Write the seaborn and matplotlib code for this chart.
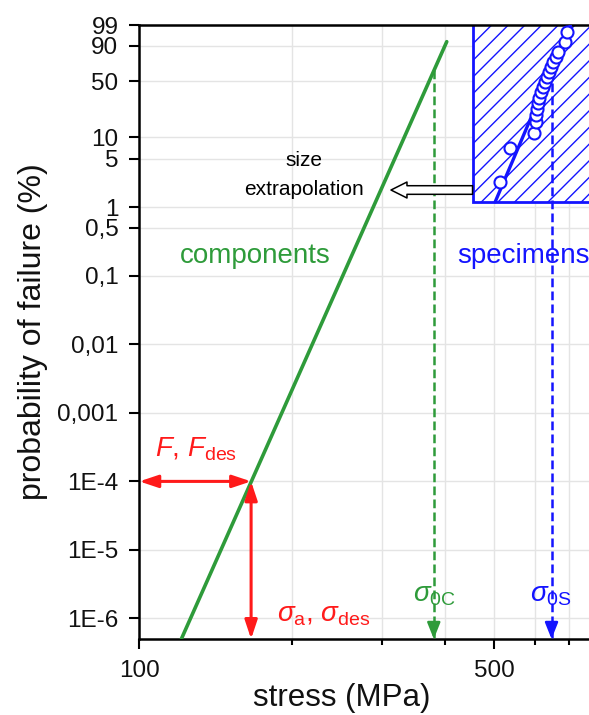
import numpy as np
import matplotlib
matplotlib.use("Agg")
import matplotlib.pyplot as plt
import matplotlib.ticker as mticker
from matplotlib.patches import Rectangle
import seaborn as sns

# ---------------- data ----------------
comp_stress = [121, 403]            # MPa, components Weibull line
comp_prob = [5e-7, 92.8]            # %
spec_stress = [513, 538, 599, 603, 605, 606, 609, 612, 618, 624,
               629, 634, 641, 646, 653, 661, 668, 689, 694]
spec_prob = [2.3, 7.2, 11.6, 16.3, 20.0, 23.7, 28.2, 32.9, 38.1, 43.9,
             49.5, 55.5, 61.6, 67.8, 73.8, 79.5, 84.7, 92.4, 97.5]
spec_fit_stress = [502, 706]
spec_fit_prob = [1.2, 99]
sigma_0C = 380
sigma_0S = 648
P_char = 63.2                       # % (characteristic level)
design_stress = 166
design_prob = 1e-4                  # %
box_stress_min = 453
box_prob_min = 1.2
y_ticks = [99, 90, 50, 10, 5, 1, 0.5, 0.1, 0.01, 0.001, 1e-4, 1e-5, 1e-6]
y_labels = ['99', '90', '50', '10', '5', '1', '0,5', '0,1', '0,01', '0,001',
            '1E-4', '1E-5', '1E-6']
x_major = [100, 500]
x_minor = [200, 300, 400, 600, 700]
x_lim = (100, 768)
y_lim = (5e-7, 99)

GREEN = '#2e9b3a'
BLUE = '#1414ff'
RED = '#ff1a1a'

sns.set_theme(style='white')
plt.rcParams['font.family'] = ['Liberation Sans', 'DejaVu Sans']
plt.rcParams['mathtext.fontset'] = 'custom'
plt.rcParams['mathtext.rm'] = 'Liberation Sans'
plt.rcParams['mathtext.it'] = 'Liberation Sans:italic'
plt.rcParams['mathtext.bf'] = 'Liberation Sans:bold'
plt.rcParams['hatch.linewidth'] = 1.0


def fwd(p):
    p = np.asarray(p, dtype=float)
    with np.errstate(all='ignore'):
        return np.log(-np.log1p(-p / 100.0))


def inv(y):
    y = np.asarray(y, dtype=float)
    with np.errstate(all='ignore'):
        return -np.expm1(-np.exp(y)) * 100.0


fig = plt.figure(figsize=(5.89, 7.15), dpi=100)
ax = fig.add_axes([0.2365, 0.1063, 0.7635, 0.8587])
ax.set_xscale('log')
ax.set_yscale('function', functions=(fwd, inv))
ax.set_xlim(*x_lim)
ax.set_ylim(*y_lim)

# grid
for xv in x_major + x_minor:
    ax.axvline(xv, color='#e4e4e4', lw=1.0, zorder=0)
for yv in y_ticks:
    ax.axhline(yv, color='#e4e4e4', lw=1.0, zorder=0)

# specimen box
box = Rectangle((box_stress_min, box_prob_min), 5000 - box_stress_min,
                99.99 - box_prob_min, facecolor='white', edgecolor=BLUE,
                hatch='//', lw=2.0, zorder=2)
ax.add_patch(box)

# components line
sns.lineplot(x=comp_stress, y=comp_prob, ax=ax, color=GREEN, lw=2.6,
             estimator=None, sort=False, zorder=3)

# dashed characteristic-strength lines
for s0, col in [(sigma_0C, GREEN), (sigma_0S, BLUE)]:
    ax.plot([s0, s0], [P_char, y_lim[0]], color=col, lw=1.8,
            dashes=(3.5, 1.7), zorder=3)
    ax.annotate('', xy=(s0, y_lim[0]), xycoords='data',
                xytext=(0, 12), textcoords='offset points',
                arrowprops=dict(arrowstyle='-|>,head_length=0.7,head_width=0.28',
                                mutation_scale=14, color=col, lw=1.8,
                                shrinkA=0, shrinkB=0), zorder=4,
                annotation_clip=False)

# specimen fit line and points
sns.lineplot(x=spec_fit_stress, y=spec_fit_prob, ax=ax, color=BLUE, lw=2.4,
             estimator=None, sort=False, zorder=4)
sns.scatterplot(x=spec_stress, y=spec_prob, ax=ax, marker='o', s=75,
                facecolor='white', edgecolor=BLUE, linewidth=1.5, zorder=5)

# design arrows (red)
red_arrow = dict(arrowstyle='<|-|>,head_length=0.75,head_width=0.25',
                 mutation_scale=15, color=RED, lw=2.2, shrinkA=0, shrinkB=0)
ax.annotate('', xy=(x_lim[0], design_prob), xytext=(design_stress, design_prob),
            arrowprops=red_arrow, zorder=6, annotation_clip=False)
ax.annotate('', xy=(design_stress, y_lim[0]), xytext=(design_stress, design_prob),
            arrowprops=red_arrow, zorder=6, annotation_clip=False)

# hollow size-extrapolation arrow
ax.annotate('', xy=(313, 1.78), xytext=(box_stress_min, 1.78),
            arrowprops=dict(arrowstyle='simple,head_length=1.15,head_width=1.15,tail_width=0.62',
                            mutation_scale=10, fc='white', ec='black', lw=1.1,
                            shrinkA=0, shrinkB=0), zorder=3)

# texts
T = ax.transAxes
ax.text(0.366, 0.7708, 'size', transform=T, ha='center', va='baseline',
        fontsize=15, color='black')
ax.text(0.366, 0.7231, 'extrapolation', transform=T, ha='center',
        va='baseline', fontsize=15, color='black')
ax.text(0.0905, 0.612, 'components', transform=T, ha='left', va='baseline',
        fontsize=20, color=GREEN)
ax.text(0.7065, 0.612, 'specimens', transform=T, ha='left', va='baseline',
        fontsize=20, color=BLUE, clip_on=False)
ax.text(0.035, 0.297, r'$F$, $F_{\mathrm{des}}$', transform=T, ha='left',
        va='baseline', fontsize=20, color=RED)
ax.text(0.3055, 0.0282, r'$\sigma_{\mathrm{a}}$, $\sigma_{\mathrm{des}}$',
        transform=T, ha='left', va='baseline', fontsize=20, color=RED)
ax.text(0.6085, 0.0608, r'$\sigma_{\mathrm{0C}}$', transform=T, ha='left',
        va='baseline', fontsize=20, color=GREEN)
ax.text(0.8689, 0.0608, r'$\sigma_{\mathrm{0S}}$', transform=T, ha='left',
        va='baseline', fontsize=20, color=BLUE)

# axes formatting
ax.xaxis.set_major_locator(mticker.FixedLocator(x_major))
ax.xaxis.set_minor_locator(mticker.FixedLocator(x_minor))
ax.xaxis.set_major_formatter(mticker.FixedFormatter([str(v) for v in x_major]))
ax.xaxis.set_minor_formatter(mticker.NullFormatter())
ax.yaxis.set_major_locator(mticker.FixedLocator(y_ticks))
ax.yaxis.set_major_formatter(mticker.FixedFormatter(y_labels))
ax.yaxis.set_minor_locator(mticker.NullLocator())

ax.tick_params(axis='both', which='major', direction='out', length=7, width=1.5,
               color='black', labelsize=17.5, labelcolor='#111111', pad=8,
               bottom=True, left=True, top=False, right=False)
ax.tick_params(axis='x', which='minor', direction='out', length=4.5, width=1.5,
               color='black', bottom=True, top=False)

for side in ['left', 'bottom', 'top']:
    ax.spines[side].set_visible(True)
    ax.spines[side].set_color('black')
    ax.spines[side].set_linewidth(1.8)
ax.spines['right'].set_visible(False)

ax.set_xlabel('stress (MPa)', fontsize=22.5, color='#111111')
ax.set_ylabel('probability of failure (%)', fontsize=23, color='#111111')
ax.xaxis.set_label_coords(0.45, -0.072)
ax.yaxis.set_label_coords(-0.204, 0.5)

fig.savefig('out.png', dpi=100)
